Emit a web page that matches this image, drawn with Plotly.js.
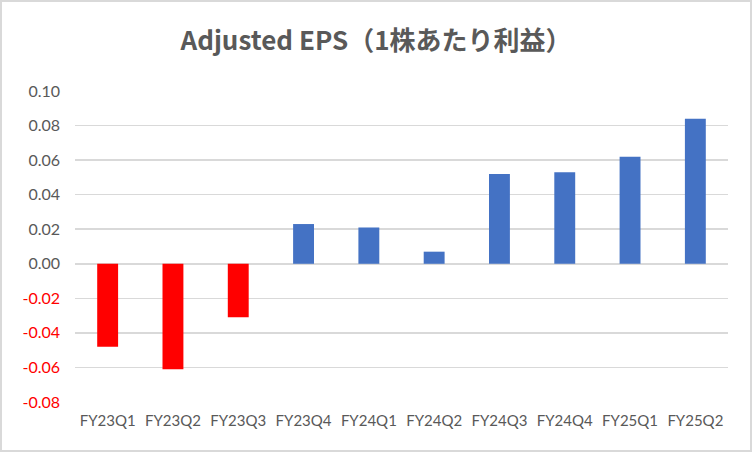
<!DOCTYPE html>
<html>
<head>
<meta charset="utf-8">
<script src="https://cdn.plot.ly/plotly-3.0.1.min.js"></script>
<style>
  body { margin: 0; background: #fff; }
  #wrap { position: relative; width: 752px; height: 452px; }
  #chart { width: 752px; height: 452px; }
  #frame { position: absolute; left: 0; top: 0; right: 0; bottom: 0;
           border: 2px solid #d9d9d9; pointer-events: none; }
</style>
</head>
<body>
<div id="wrap">
  <div id="chart"></div>
  <div id="frame"></div>
</div>
<script>
// quarters and adjusted EPS
const quarters = ['FY23Q1', 'FY23Q2', 'FY23Q3', 'FY23Q4', 'FY24Q1',
                  'FY24Q2', 'FY24Q3', 'FY24Q4', 'FY25Q1', 'FY25Q2'];
const eps = [-0.048, -0.061, -0.031, 0.023, 0.021, 0.007, 0.052, 0.053, 0.062, 0.084];

const yTicks = [-0.08, -0.06, -0.04, -0.02, 0.00, 0.02, 0.04, 0.06, 0.08, 0.10];
const yTickLabels = ['-0.08', '-0.06', '-0.04', '-0.02', '0.00', '0.02', '0.04', '0.06', '0.08', '0.10'];

const RED = '#ff0000';
const BLUE = '#4472c4';
const GRAY = '#595959';

const trace = {
  type: 'bar',
  x: quarters,
  y: eps,
  marker: { color: eps.map(v => v < 0 ? RED : BLUE) },
  hoverinfo: 'x+y',
};

// negative ticks are drawn in red
const tickText = yTicks.map((v, i) =>
  v < 0 ? `<span style="color:${RED}">${yTickLabels[i]}</span>` : yTickLabels[i]);

const layout = {
  width: 752, height: 452,
  margin: { l: 75, r: 24, t: 91, b: 50 },
  paper_bgcolor: '#fff',
  plot_bgcolor: '#fff',
  font: { family: 'Lato, "Noto Sans CJK JP", sans-serif', size: 15, color: GRAY },
  title: {
    text: 'Adjusted EPS（1株あたり利益）',
    font: { family: '"Noto Sans CJK JP", sans-serif', size: 26, color: GRAY, weight: 'bold' },
    x: 0.5, xanchor: 'center',
    y: 0.91, yanchor: 'middle',
  },
  bargap: 0.68,
  showlegend: false,
  xaxis: {
    type: 'category',
    showgrid: false,
    showline: false,
    ticks: '',
    ticklabelstandoff: 8,
    tickfont: { size: 15, color: GRAY },
  },
  yaxis: {
    range: [-0.08, 0.10],
    tickmode: 'array',
    tickvals: yTicks,
    ticktext: tickText,
    showgrid: true,
    gridcolor: '#d9d9d9',
    gridwidth: 1.5,
    zeroline: true,
    zerolinecolor: '#d9d9d9',
    zerolinewidth: 1.5,
    showline: false,
    ticks: '',
    ticklabelstandoff: 14,
    tickfont: { size: 16, color: GRAY },
  },
};

Plotly.newPlot('chart', [trace], layout, { displayModeBar: false, staticPlot: true });
</script>
</body>
</html>
